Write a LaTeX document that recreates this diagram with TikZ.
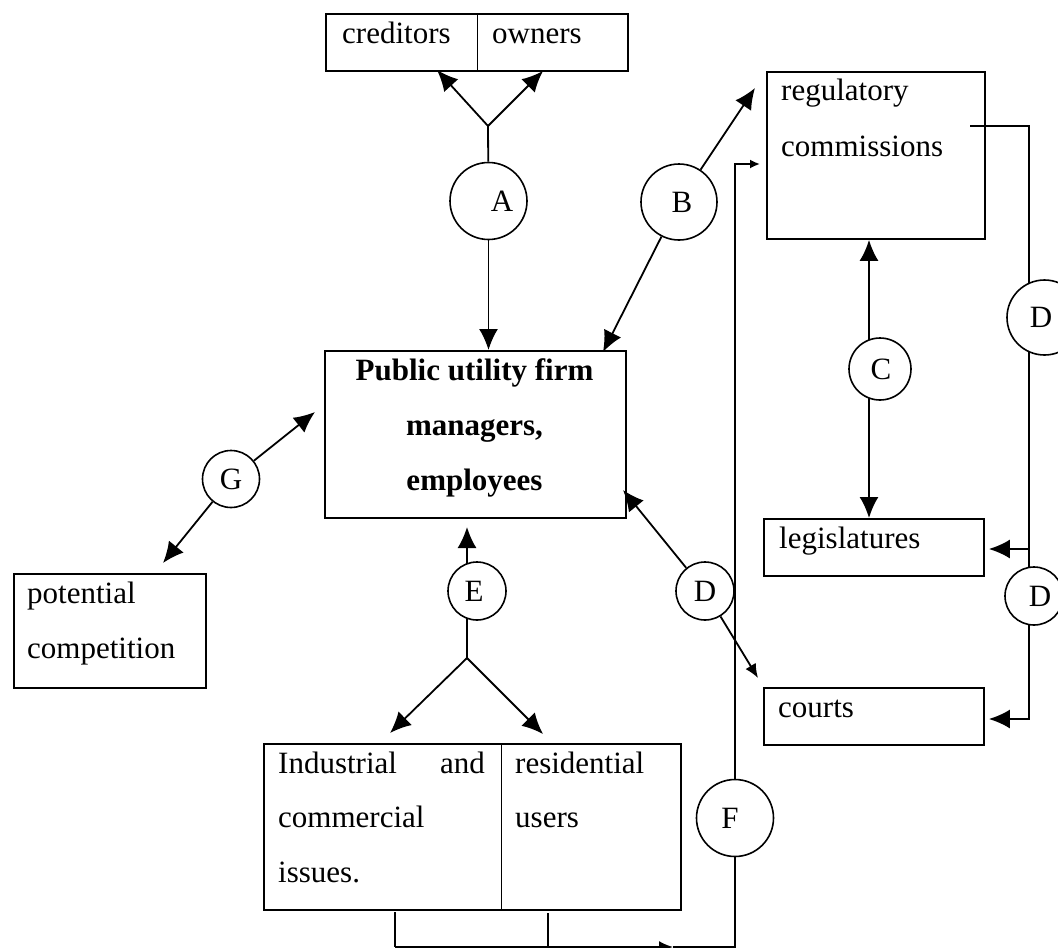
\documentclass[tikz,border=0pt]{standalone}
\usepackage{fontspec}
\setmainfont{Liberation Serif}
\usetikzlibrary{arrows.meta,calc}
\begin{document}
\begin{tikzpicture}[x=1pt,y=-1pt,
  font=\fontsize{31}{55}\selectfont,
  box/.style={draw, line width=1.9pt, rectangle, inner sep=0pt, anchor=north west},
  circ/.style={draw, circle, line width=1.6pt, inner sep=0pt},
  txt/.style={inner sep=0pt, anchor=base west},
  ctxt/.style={inner sep=0pt, anchor=base, font=\fontsize{31}{55}\selectfont\bfseries},
  divider/.style={line width=0.8pt},
  conn/.style={line width=1.8pt},
  arr/.style={line width=1.8pt, -{Latex[length=21pt,width=19pt]}},
  arrmid/.style={line width=1.8pt, -{Latex[length=14pt,width=12pt]}},
  arrsmall/.style={line width=1.8pt, -{Latex[length=10pt,width=9pt]}}]
\useasboundingbox[fill=white] (0,0) rectangle (1058,948);

% boxes
\node[box, minimum width=302pt, minimum height=57pt] (cred) at (325,13) {};
\node[box, minimum width=218pt, minimum height=167pt] (reg) at (766,71) {};
\node[box, minimum width=301pt, minimum height=167pt] (pub) at (324,350) {};
\node[box, minimum width=220pt, minimum height=57pt] (leg) at (763,518) {};
\node[box, minimum width=220pt, minimum height=57pt] (courts) at (763,687) {};
\node[box, minimum width=192pt, minimum height=114pt] (pot) at (13,573) {};
\node[box, minimum width=417pt, minimum height=166pt] (users) at (263,743) {};
\draw[divider] (477,13) -- (477,70);
\draw[divider] (501,743) -- (501,909);

% box texts
\node[txt] (tcred) at (342,43) {creditors};
\node[txt] (town) at (492,43) {owners};
\node[txt] (treg1) at (781,100) {regulatory};
\node[txt] (treg2) at (781,156) {commissions};
\node[ctxt] (tpub1) at (474.5,380) {Public utility firm};
\node[ctxt] (tpub2) at (474.5,435) {managers,};
\node[ctxt] (tpub3) at (474.5,490) {employees};
\node[txt] (tleg) at (779,548) {legislatures};
\node[txt] (tcourts) at (778,717) {courts};
\node[txt] (tpot1) at (27,603) {potential};
\node[txt] (tpot2) at (27,658) {competition};
\node[txt] (tind1) at (278,773) {Industrial};
\node[inner sep=0pt, anchor=base east] (tind2) at (485,773) {and};
\node[txt] (tind3) at (278,827) {commercial};
\node[txt] (tind4) at (278,882) {issues.};
\node[txt] (tres1) at (515,773) {residential};
\node[txt] (tres2) at (515,827) {users};

% circles
\node[circ, minimum size=77pt, label={[xshift=13.5pt]center:A}] (A) at (488.5,201) {};
\node[circ, minimum size=76pt, label={[xshift=3pt]center:B}] (B) at (679,202) {};
\node[circ, minimum size=62pt, label={[xshift=1pt]center:C}] (C) at (880,369) {};
\node[circ, minimum size=75pt, label={[xshift=-3.5pt]center:D}] (D1) at (1044.5,317.5) {};
\node[circ, minimum size=58pt, label={[xshift=6pt]center:D}] (D2) at (1034,596) {};
\node[circ, minimum size=58pt, label=center:D] (Dm) at (705,591) {};
\node[circ, minimum size=58pt, label={[xshift=-3pt]center:E}] (E) at (477,591) {};
\node[circ, minimum size=77pt, label={[xshift=-5pt]center:F}] (F) at (735,818) {};
\node[circ, minimum size=57pt, label=center:G] (G) at (231,479) {};

% A
\coordinate (fa) at (488,126);
\draw[conn] (A) -- (fa);
\draw[arr] (fa) -- (437,70);
\draw[arr] (fa) -- (543,71);
\draw[arr] (A) -- (A |- pub.north);

% B
\coordinate (tb1) at (755,88);
\coordinate (tb2) at (603,352);
\draw[arr] (B) -- (tb1);
\draw[arr] (B) -- (tb2);

% C
\coordinate (c1) at (869,339.6);
\coordinate (c2) at (869,398.4);
\draw[arr] (c1) -- (c1 |- reg.south);
\draw[arr] (c2) -- (c2 |- leg.north);

% D right chain
\coordinate (dstart) at (970,126);
\coordinate (d1top) at (1029,283);
\coordinate (d1bot) at (1029,352);
\coordinate (d2top) at (1029,567.4);
\coordinate (d2bot) at (1029,624.6);
\coordinate (jl) at (1029,549);
\coordinate (jc) at (1029,719);
\draw[conn] (dstart) -| (d1top);
\draw[conn] (d1bot) -- (d2top);
\draw[arr] (jl) -- ([xshift=4pt]jl -| leg.east);
\draw[arr] (d2bot) -- (jc) -- ([xshift=4pt]jc -| courts.east);

% D middle
\coordinate (td1) at (623,490);
\coordinate (td2) at (758,678);
\draw[arr] (Dm) -- (td1);
\draw[arrmid] (Dm) -- (td2);

% E
\coordinate (e1) at (467,564);
\coordinate (e2) at (467,618);
\coordinate (fe) at (467,658);
\draw[arr] (e1) -- (467,527);
\draw[conn] (e2) -- (fe);
\draw[arr] (fe) -- (390,733);
\draw[arr] (fe) -- (543,734);

% G
\draw[arr] (G) -- (315,412);
\draw[arr] (G) -- (163,563);

% F
\coordinate (u1) at (395,912);
\coordinate (u2) at (548,913);
\coordinate (b1) at (395,947);
\coordinate (b2) at (548,947);
\coordinate (bm) at (673,947);
\coordinate (b3) at (735,947);
\draw[conn] (u1) -- (b1);
\draw[conn] (u2) -- (b2);
\draw[arrmid] (b1) -- (bm);
\draw[conn] (bm) -- (b3) -- (F);
\draw[arrsmall] (F) |- (760,164);
\end{tikzpicture}
\end{document}
